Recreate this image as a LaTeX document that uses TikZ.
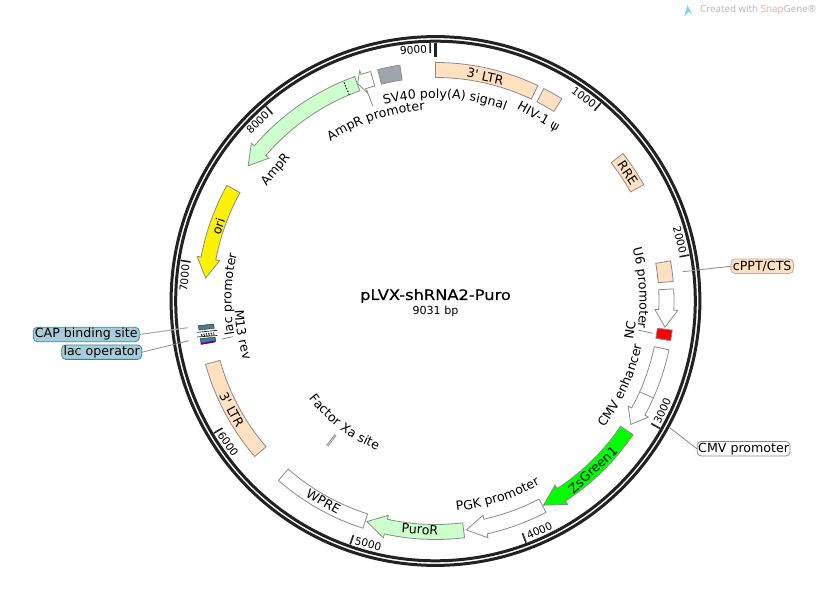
\documentclass[tikz,border=0pt]{standalone}
\usepackage{fontspec}
\setmainfont{DejaVu Sans}
\newfontfamily\pf{DejaVu Sans}
\newfontfamily\titlef[FakeBold=0.5,FakeStretch=1.13]{DejaVu Sans}
\newfontfamily\wmfont{Open Sans}
\usetikzlibrary{decorations.text}
\definecolor{ringc}{HTML}{222222}
\definecolor{peach}{HTML}{FFE0C0}
\definecolor{mint}{HTML}{CCFFCC}
\definecolor{edgec}{HTML}{8A8A8A}
\definecolor{leadc}{HTML}{8C8C80}
\definecolor{capblue}{HTML}{A8CCD8}
\definecolor{capedge}{HTML}{3F8296}
\definecolor{tealc}{HTML}{41808F}
\definecolor{greyc}{HTML}{A0A5AD}
\definecolor{wmgrey}{HTML}{B4B4B4}
\definecolor{wmred}{HTML}{E8A59C}
\definecolor{wmblue}{HTML}{86D6F0}
\newcommand\lblfont{\pf\fontsize{12.6}{14}\selectfont}
\newcommand\tickfont{\pf\fontsize{10.6}{12}\selectfont}
\tikzset{
 feat/.style={draw=edgec,line width=0.8pt,line join=miter},
 leader/.style={draw=leadc,line width=0.8pt},
 plabel/.style={font=\lblfont,inner sep=0pt},
 tlabel/.style={font=\tickfont,inner sep=0pt},
 boxlabel/.style={font=\lblfont,rounded corners=4pt,inner sep=0pt,line width=0.8pt,minimum height=14.4pt},
 majortick/.style={draw=ringc,line width=1.6pt}
}
\def\ri{223.5}
\def\ro{238.5}
% band: style, from, to (clockwise degrees from the top)
\newcommand\fband[3]{\path[#1] ({90-(#2)}:\ro) arc[start angle={90-(#2)},end angle={90-(#3)},radius=\ro] -- ({90-(#3)}:\ri) arc[start angle={90-(#3)},end angle={90-(#2)},radius=\ri] -- cycle;}
% arrow: style, start, neck, tip
\newcommand\farrow[4]{\path[#1] ({90-(#2)}:\ro) arc[start angle={90-(#2)},end angle={90-(#3)},radius=\ro] -- ({90-(#3)}:242.5) -- ({90-(#4)}:231) -- ({90-(#3)}:219.5) -- ({90-(#3)}:\ri) arc[start angle={90-(#3)},end angle={90-(#2)},radius=\ri] -- cycle;}
% curved labels: radius, centre angle, half span, text
\newcommand\cwtext[4]{\path[decorate,decoration={text along path,text align=center,text={|\lblfont|#4}}] ({90-(#2)+(#3)}:#1) arc[start angle={90-(#2)+(#3)},end angle={90-(#2)-(#3)},radius=#1];}
\newcommand\ccwtext[4]{\path[decorate,decoration={text along path,text align=center,text={|\lblfont|#4}}] ({90-(#2)-(#3)}:#1) arc[start angle={90-(#2)-(#3)},end angle={90-(#2)+(#3)},radius=#1];}
\begin{document}
\begin{tikzpicture}[x=1pt,y=1pt]
\useasboundingbox (-435.5,-293) rectangle (391.5,301);
% ring
\draw[ringc,line width=3pt] (0,0) circle[radius=264.4];
\draw[ringc,line width=3pt] (0,0) circle[radius=259.8];
% ticks
\draw[ringc,line width=3pt] (90:244) -- (90:258);
\foreach \tk/\lb/\rt in {358.79/9000/5,39.86/1000/-36,79.73/2000/-76,119.59/3000/65,159.46/4000/25,199.32/5000/-15,239.19/6000/-55,279.05/7000/85,318.92/8000/45}{
 \draw[majortick] ({90-\tk}:248) -- ({90-\tk}:258);
 \node[tlabel,rotate=\rt] (t\lb) at ({90-\tk+3.8}:252) {\lb};
}
% features
\fband{feat,fill=peach}{0}{25.4}
\fband{feat,fill=peach}{27}{32}
\fband{feat,fill=peach}{51.8}{60.8}
\fband{feat,fill=peach}{80.3}{85.3}
\farrow{feat,fill=white}{87.1}{92.2}{96.5}
\fband{feat,fill=red}{97}{99.6}
\farrow{feat,fill=white}{101.8}{118.6}{122.3}
\draw[feat] ({90-114}:\ri) -- ({90-114}:\ro);
\farrow{feat,fill=green}{124.1}{147}{152.1}
\farrow{feat,fill=white}{152.4}{167.5}{172.3}
\farrow{feat,fill=mint}{173}{192.4}{197.3}
\fband{feat,fill=white}{197.7}{221.2}
\fband{feat,fill=peach}{229.3}{254.6}
\farrow{feat,fill=yellow}{299}{280.6}{275.7}
\farrow{feat,fill=mint}{340.2}{310.6}{305.8}
\draw[black,line width=0.9pt,dash pattern=on 1.5pt off 1.5pt] ({90-337.3}:\ri) -- ({90-337.3}:\ro);
\farrow{feat,fill=white}{344.2}{341.8}{340.3}
\fband{feat,fill=greyc}{346}{351.4}
\draw[feat] ({90-216.5}:167) -- ({90-216.5}:181) ({90-217}:167) -- ({90-217}:181);
% text on features and beside them
\node[plabel,rotate=-12.5] (ltrA) at ({90-12.5}:230) {3' LTR};
\node[plabel,rotate=-29.2] (hiv) at ({90-29.2}:210.7) {HIV-1 ψ};
\node[plabel,rotate=-56.3] (rre) at ({90-56.3}:231) {RRE};
\node[plabel,rotate=81.5] (nc) at ({90-98.5}:196.6) {NC};
\node[plabel,rotate=43] (zs) at ({90-137}:230.7) {ZsGreen1};
\node[plabel,rotate=-3.9] (puro) at ({90-183.9}:229) {PuroR};
\node[plabel,rotate=-29.2] (wpre) at ({90-209.2}:229.6) {WPRE};
\node[plabel,rotate=-61.9] (ltrB) at ({90-241.9}:231) {3' LTR};
\node[plabel,rotate=71] (ori) at ({90-289}:229.6) {ori};
\node[plabel,rotate=50.6] (ampr) at ({90-309.4}:206.4) {AmpR};
\cwtext{203}{2.7}{25}{SV40 poly(A) signal}
\cwtext{191}{341.7}{25}{AmpR promoter}
\cwtext{204}{86.4}{25}{U6 promoter}
\ccwtext{211}{114.5}{25}{CMV enhancer}
\ccwtext{211}{162.3}{25}{PGK promoter}
\ccwtext{160}{216.9}{25}{Factor Xa site}
\ccwtext{201}{260.1}{15}{M13 rev}
\cwtext{204}{271.9}{25}{lac promoter}
% centre
\node[font=\titlef\fontsize{14.4}{16}\selectfont,inner sep=0pt] (title) at (0,5) {pLVX-shRNA2-Puro};
\node[font=\pf\fontsize{11.1}{13}\selectfont,inner sep=0pt] (size) at (0,-10) {9031 bp};
\begin{scope}[shift={(-435.5,301)},yscale=-1]
% lac cluster
\fill[tealc,draw=ringc,line width=0.4pt] (198.3,325.7) -- (213.3,324) -- (214.3,328.3) -- (199,330) -- cycle;
\draw[ringc,line width=0.7pt] (197.3,332.3) -- (217.3,330.3);
\draw[ringc,line width=1.2pt,dash pattern=on 1.2pt off 1.2pt] (201,334.5) -- (214,333) (201.5,336) -- (214.5,334.8);
\draw[ringc,line width=0.7pt] (197,337) -- (217.3,335.5);
\fill[tealc,draw=ringc,line width=0.4pt] (200,338.6) -- (215,337.2) -- (216,341.3) -- (201,342.7) -- cycle;
\draw[violet!80!blue,line width=1.6pt] (200.7,344) -- (215,341.6);
% boxed labels
\node[boxlabel,draw=edgec!60!peach,fill=peach,minimum width=62.4pt] (cppt) at (762.2,266.3) {cPPT/CTS};
\node[boxlabel,draw=edgec,fill=white,minimum width=92.8pt] (cmvp) at (743.6,448.7) {CMV promoter};
\node[boxlabel,draw=capedge,fill=capblue,minimum width=106pt] (cap) at (86.3,334.5) {CAP binding site};
\node[boxlabel,draw=capedge,fill=capblue,minimum width=80pt] (lacop) at (101.7,352.2) {lac operator};
% leaders
\coordinate (cpptend) at (682.7,271.7);
\coordinate (cmvend) at (669.3,427.3);
\coordinate (capend) at (187.7,327.7);
\coordinate (lacopend) at (189,340.7);
\coordinate (m13a) at (222,339);
\coordinate (m13b) at (233,336.7);
\coordinate (nca) at (638,330);
\coordinate (ncb) at (652.7,333.3);
\coordinate (ampa) at (366.7,90);
\coordinate (ampb) at (372.7,106);
\draw[leader] (cppt.west) -- (cpptend);
\draw[leader] (cmvp.west) -- (cmvend);
\draw[leader,line width=1.1pt,draw=leadc!70] (cap.east) -- (capend);
\draw[leader] (lacop.east) -- (lacopend);
\draw[leader] (m13a) -- (m13b);
\draw[leader] (nca) -- (ncb);
\draw[leader] (ampa) -- (ampb);
% watermark
\fill[wmblue] (684,16) -- (687.5,5) -- (692.5,15) -- (689,12) -- cycle;
\node[font=\wmfont\fontsize{9.8}{12}\selectfont,text=wmgrey,anchor=west,inner sep=0pt] (wm) at (700,10) {Created with \textcolor{wmred}{Snap}Gene®};
\end{scope}
\end{tikzpicture}
\end{document}
